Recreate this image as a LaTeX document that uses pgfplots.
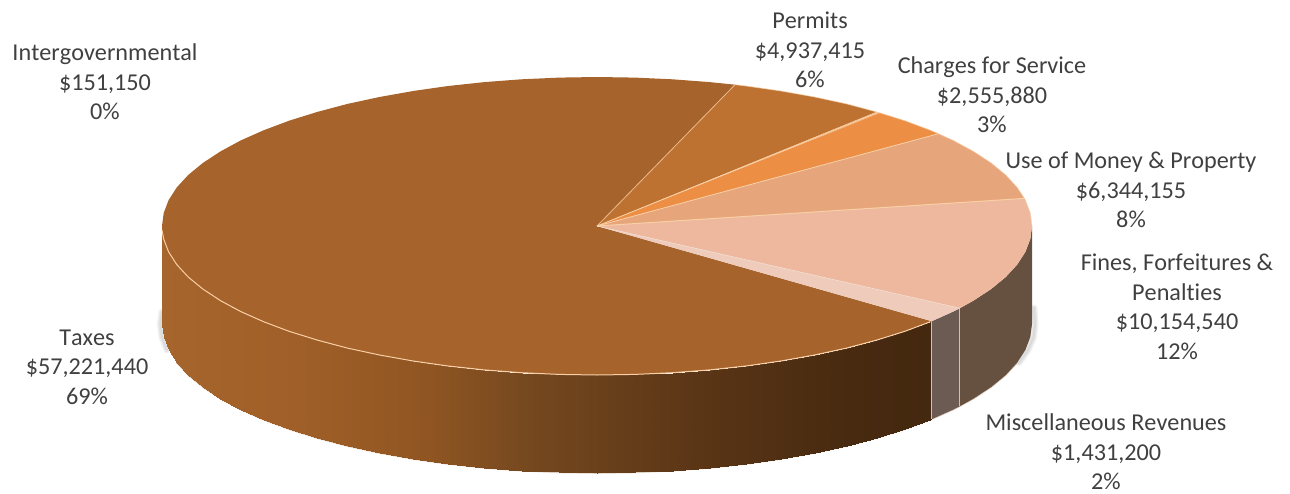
\documentclass[border=0pt]{standalone}
\usepackage{pgfplots}
\pgfplotsset{compat=1.18}
\usepackage{pgfplotstable}
\usepackage{fontspec}
\setmainfont{Carlito}[Ligatures={NoCommon},Kerning=Off]
\definecolor{taxes}{HTML}{A6632B}
\definecolor{permits}{HTML}{BD7231}
\definecolor{intergov}{HTML}{F2B67E}
\definecolor{charges}{HTML}{EC8F44}
\definecolor{usemoney}{HTML}{E7A57B}
\definecolor{fines}{HTML}{EDB89D}
\definecolor{misc}{HTML}{EECBBB}
\definecolor{sidefines}{HTML}{66503F}
\definecolor{sidemisc}{HTML}{6B5B52}
\definecolor{seam}{HTML}{F9CFA6}
\definecolor{labeltext}{HTML}{404040}

% Side wall of the Taxes slice: pairs of rim and base points, 98 units apart
\pgfplotstableread{
x y
162.0 226.0
162.0 324.0
163.7 239.0
163.7 337.0
168.6 251.9
168.6 349.9
176.8 264.6
176.8 362.6
188.2 277.0
188.2 375.0
202.8 289.0
202.8 387.0
220.3 300.5
220.3 398.5
240.6 311.5
240.6 409.5
263.8 321.8
263.8 419.8
289.4 331.4
289.4 429.4
317.4 340.1
317.4 438.1
347.5 348.1
347.5 446.1
379.5 355.0
379.5 453.0
413.2 361.0
413.2 459.0
448.2 366.0
448.2 464.0
484.4 369.9
484.4 467.9
521.5 372.7
521.5 470.7
559.1 374.4
559.1 472.4
597.0 375.0
597.0 473.0
634.9 374.4
634.9 472.4
672.5 372.7
672.5 470.7
709.6 369.9
709.6 467.9
745.8 366.0
745.8 464.0
780.8 361.0
780.8 459.0
814.5 355.0
814.5 453.0
846.5 348.1
846.5 446.1
876.6 340.1
876.6 438.1
904.6 331.4
904.6 429.4
930.2 321.8
930.2 419.8
931.7 321.2
931.7 419.2
}\taxeswall

\begin{document}
\begin{tikzpicture}
\begin{axis}[
  scale only axis, width=1290pt, height=493pt,
  xmin=0, xmax=1290, ymin=0, ymax=493, y dir=reverse,
  hide axis, clip=false,
  colormap={taxwall}{
    rgb255(162pt)=(166,101,44) rgb255(300pt)=(160,95,40) rgb255(430pt)=(143,85,34)
    rgb255(530pt)=(117,72,31) rgb255(700pt)=(90,53,22) rgb255(850pt)=(71,42,16) rgb255(932pt)=(68,40,15)},
  point meta min=162, point meta max=932,
]
\path (axis cs:0,0) (axis cs:1290,493);

% soft shadow along the base, left and right
\pgfplotsinvokeforeach{7,4.5,2}{
  \addplot[draw=gray, line width=#1pt, line cap=round, opacity=0.11, forget plot] coordinates {
    (162,312) (160.5,324) (162,337) (167,349.9)};
  \addplot[draw=gray, line width=#1pt, line cap=round, opacity=0.11, forget plot] coordinates {
    (1034,308) (1035,324) (1033.5,337) (1028,349.9) (1019,362.6)};
}
% tan rim under the base
\addplot[draw=seam!60!gray, line width=1.6pt, opacity=0.6] coordinates {
  (176.8,362.6) (188.2,375) (202.8,387) (220.3,398.5) (240.6,409.5) (263.8,419.8)
  (289.4,429.4) (317.4,438.1) (347.5,446.1) (379.5,453) (413.2,459) (448.2,464)
  (484.4,467.9) (521.5,470.7) (559.1,472.4) (597,473) (634.9,472.4) (672.5,470.7)
  (709.6,467.9) (745.8,464) (780.8,459) (814.5,453) (846.5,446.1) (876.6,438.1)
  (904.6,429.4) (930.2,419.8) (953.4,409.5) (973.7,398.5) (991.2,387) (1005.8,375) (1017.2,362.6)};

% side walls
\addplot[surf, shader=interp, mesh/cols=2, point meta=x] table {\taxeswall};
\addplot[fill=sidemisc, draw=none] coordinates {
  (931.7,321.2) (953.4,311.5) (959.9,308.2) (959.9,406.2) (953.4,409.5) (931.7,419.2)} -- cycle;
\addplot[fill=sidefines, draw=none] coordinates {
  (959.9,308.2) (973.7,300.5) (991.2,289) (1005.8,277) (1017.2,264.6) (1025.4,251.9)
  (1030.3,239) (1032,226) (1032,324) (1030.3,337) (1025.4,349.9) (1017.2,362.6)
  (1005.8,375) (991.2,387) (973.7,398.5) (959.9,406.2)} -- cycle;
\addplot[draw=white!65!sidefines, line width=1pt] coordinates {(931.7,321.2) (931.7,419.2)};
\addplot[draw=white!65!sidefines, line width=1pt] coordinates {(959.9,308.2) (959.9,406.2)};

% top face: Taxes
\addplot[fill=taxes, draw=none] coordinates {
  (597,226) (735,84.7) (709.6,82.1) (672.5,79.3) (634.9,77.6) (597,77) (559.1,77.6)
  (521.5,79.3) (484.4,82.1) (448.2,86) (413.2,91) (379.5,97) (347.5,103.9) (317.4,111.9)
  (289.4,120.6) (263.8,130.2) (240.6,140.5) (220.3,151.5) (202.8,163) (188.2,175)
  (176.8,187.4) (168.6,200.1) (163.7,213) (162,226) (163.7,239) (168.6,251.9) (176.8,264.6)
  (188.2,277) (202.8,289) (220.3,300.5) (240.6,311.5) (263.8,321.8) (289.4,331.4)
  (317.4,340.1) (347.5,348.1) (379.5,355) (413.2,361) (448.2,366) (484.4,369.9)
  (521.5,372.7) (559.1,374.4) (597,375) (634.9,374.4) (672.5,372.7) (709.6,369.9)
  (745.8,366) (780.8,361) (814.5,355) (846.5,348.1) (876.6,340.1) (904.6,331.4)
  (930.2,321.8) (931.7,321.2)} -- cycle;
% top face: Permits
\addplot[fill=permits, draw=none] coordinates {
  (597,226) (876.4,111.9) (846.5,103.9) (814.5,97) (780.8,91) (745.8,86) (735,84.7)} -- cycle;
% top face: Intergovernmental
\addplot[fill=intergov, draw=none] coordinates {(597,226) (880.2,112.9) (876.4,111.9)} -- cycle;
% top face: Charges for Service
\addplot[fill=charges, draw=none] coordinates {
  (597,226) (938.6,133.7) (930.2,130.2) (904.6,120.6) (880.2,112.9)} -- cycle;
% top face: Use of Money & Property
\addplot[fill=usemoney, draw=none] coordinates {
  (597,226) (1024.5,198.4) (1017.2,187.4) (1005.8,175) (991.2,163) (973.7,151.5) (953.4,140.5) (938.6,133.7)} -- cycle;
% top face: Fines, Forfeitures & Penalties
\addplot[fill=fines, draw=none] coordinates {
  (597,226) (959.9,308.2) (973.7,300.5) (991.2,289) (1005.8,277) (1017.2,264.6) (1025.4,251.9)
  (1030.3,239) (1032,226) (1030.3,213) (1025.4,200.1) (1024.5,198.4)} -- cycle;
% top face: Miscellaneous Revenues
\addplot[fill=misc, draw=none] coordinates {
  (597,226) (931.7,321.2) (953.4,311.5) (959.9,308.2)} -- cycle;

% light seams between slices and around the rim
\addplot[draw=seam!80!taxes, line width=0.8pt] coordinates {(597,226) (735,84.7)};
\addplot[draw=seam, line width=0.8pt] coordinates {(597,226) (878,112.4)};
\addplot[draw=seam, line width=0.8pt] coordinates {(597,226) (938.6,133.7)};
\addplot[draw=seam, line width=1pt] coordinates {(597,226) (1024.5,198.4)};
\addplot[draw=misc!70!white, line width=0.6pt] coordinates {(597,226) (959.9,308.2)};
\addplot[draw=seam, line width=1pt] coordinates {
  (162,230) (163.7,239) (168.6,251.9) (176.8,264.6) (188.2,277) (202.8,289) (220.3,300.5)
  (240.6,311.5) (263.8,321.8) (289.4,331.4) (317.4,340.1) (347.5,348.1) (379.5,355)
  (413.2,361) (448.2,366) (484.4,369.9) (521.5,372.7) (559.1,374.4) (597,375) (634.9,374.4)
  (672.5,372.7) (709.6,369.9) (745.8,366) (780.8,361) (814.5,355) (846.5,348.1)
  (876.6,340.1) (904.6,331.4) (930.2,321.8)};
\addplot[draw=seam, line width=0.7pt, opacity=0.7] coordinates {
  (735,84.7) (745.8,86) (780.8,91) (814.5,97) (846.5,103.9) (876.6,111.9) (904.6,120.6)
  (930.2,130.2) (953.4,140.5) (973.7,151.5) (991.2,163) (1005.8,175) (1017.2,187.4)
  (1025.4,200.1) (1030.3,213) (1032,226)};

% data labels
\begin{scope}[every node/.style={align=center, text=labeltext,
    font=\fontsize{24.2}{29.5}\selectfont, inner sep=0pt}]
\node at (axis cs:105,82) {Intergovernmental\\\$151,150\\0\%};
\node at (axis cs:810,50) {Permits\\\$4,937,415\\6\%};
\node at (axis cs:992,95) {Charges for Service\\\$2,555,880\\3\%};
\node at (axis cs:1131,190) {Use of Money \& Property\\\$6,344,155\\8\%};
\node at (axis cs:1177,307) {Fines, Forfeitures \&\\Penalties\\\$10,154,540\\12\%};
\node at (axis cs:1106,452) {Miscellaneous Revenues\\\$1,431,200\\2\%};
\node at (axis cs:87,367) {Taxes\\\$57,221,440\\69\%};
\end{scope}
\end{axis}
\end{tikzpicture}
\end{document}
